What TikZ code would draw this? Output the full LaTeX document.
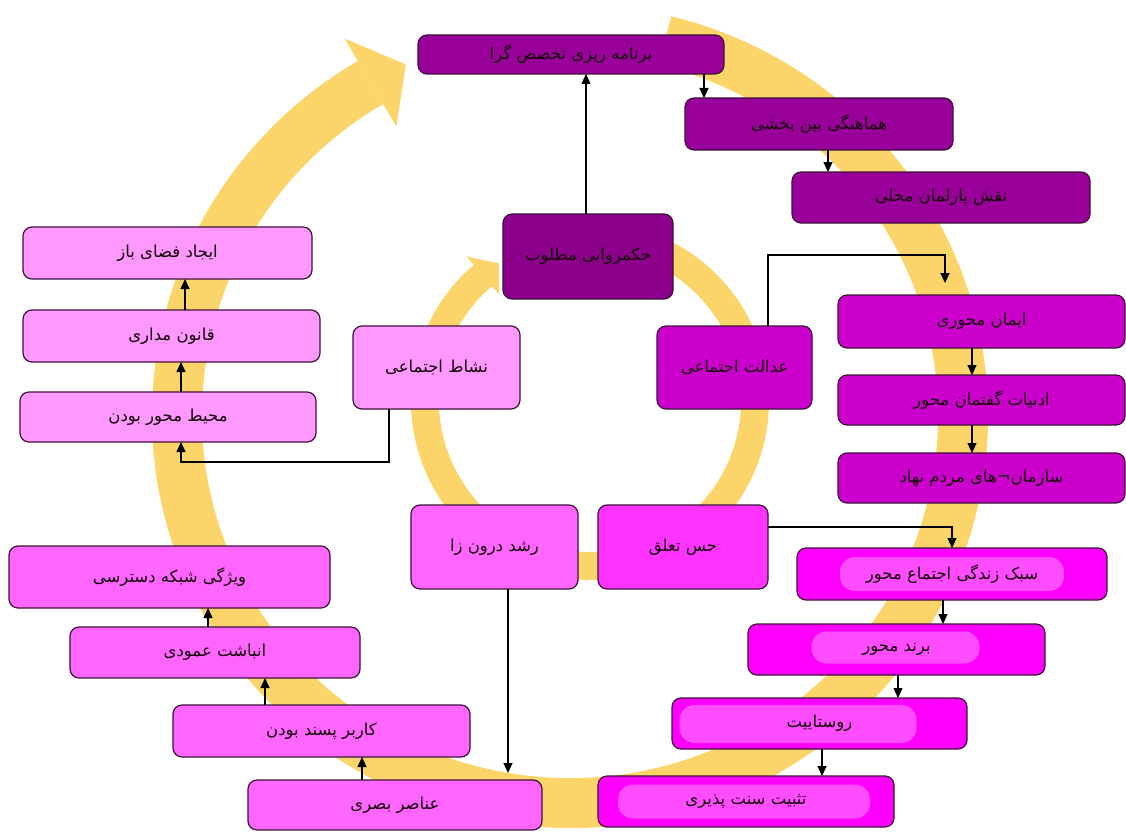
\documentclass[tikz,border=0pt]{standalone}
\usepackage{fontspec}
\newfontfamily\fa[Script=Arabic]{DejaVu Sans}
\TeXXeTstate=1
\usetikzlibrary{arrows.meta,calc}
\definecolor{ringc}{HTML}{FBD56A}
\definecolor{bordc}{HTML}{3C1238}
\definecolor{cdarkp}{HTML}{990099}
\definecolor{cdarkq}{HTML}{8C008C}
\definecolor{cmedp}{HTML}{CC00CC}
\definecolor{cmag}{HTML}{FF00FF}
\definecolor{cmagb}{HTML}{FF33FF}
\definecolor{cpink}{HTML}{FF66FF}
\definecolor{clpink}{HTML}{FF99FF}
\definecolor{chl}{HTML}{FF4CFF}
\begin{document}
\begin{tikzpicture}[x=1pt,y=-1pt,
  box/.style={draw=bordc, line width=1.2pt, rounded corners=9pt, inner sep=0pt, outer sep=0pt,
    text=black!90!purple, font=\fa\fontsize{16.5}{19}\selectfont},
  conn/.style={draw=black, line width=1.2pt, -{Triangle[length=10pt,width=9pt]}},
  ringband/.style={draw=ringc, line cap=butt},
  hlb/.style n args={4}{path picture={\fill[chl, rounded corners=15pt]
     ([shift={(#1pt,#2pt)}]path picture bounding box.center) rectangle ++(#3pt,#4pt);}}
]
\useasboundingbox (0,0) rectangle (1126,832);
\fill[white] (0,0) rectangle (1126,832);

% big ring
\coordinate (C) at (570,416);
\draw[ringband, line width=50pt] ($(C)+(-76:393 and 387)$) arc[start angle=-76, end angle=239.5, x radius=393, y radius=387];
\fill[ringc] ($(C)+(239.5:444 and 438)$) -- ($(C)+(245.3:393 and 387)$) -- ($(C)+(239.5:342 and 336)$) -- cycle;

% inner ring
\coordinate (D) at (590,401);
\draw[ringband, line width=28pt] ($(D)+(-80:165)$) arc[start angle=-80, end angle=230, radius=165];
\fill[ringc] ($(D)+(229.5:190)$) -- ($(D)+(236.5:165)$) -- ($(D)+(229.5:140)$) -- cycle;

% boxes
\node[box, fill=cdarkp, minimum width=306pt, minimum height=39pt] (b1) at (571,54.5) {\beginR برنامه ریزی تخصص گرا\endR};
\node[box, fill=cdarkp, minimum width=268pt, minimum height=52pt] (b2) at (819,124) {\beginR هماهنگی بین بخشی\endR};
\node[box, fill=cdarkp, minimum width=298pt, minimum height=51pt] (b3) at (941,197.5) {\beginR نقش پارلمان محلی\endR};
\node[box, fill=cdarkq, minimum width=170pt, minimum height=85pt] (b4) at (588,256.5) {\beginR حکمروایی مطلوب\endR};
\node[box, fill=clpink, minimum width=167pt, minimum height=83pt] (b5) at (436.5,367.5) {\beginR نشاط اجتماعی\endR};
\node[box, fill=cmedp, minimum width=155pt, minimum height=83pt] (b6) at (734.5,367.5) {\beginR عدالت اجتماعی\endR};
\node[box, fill=cmedp, minimum width=287pt, minimum height=53pt] (b7) at (981.5,321.5) {\beginR ایمان محوری\endR};
\node[box, fill=cmedp, minimum width=287pt, minimum height=50pt] (b8) at (981.5,400) {\beginR ادبیات گفتمان محور\endR};
\node[box, fill=cmedp, minimum width=287pt, minimum height=50pt] (b9) at (981.5,478) {\beginR سازمان¬های مردم نهاد\endR};
\node[box, fill=cmagb, minimum width=170pt, minimum height=84pt] (b10) at (683,547) {\beginR حس تعلق\endR};
\node[box, fill=cpink, minimum width=167pt, minimum height=84pt] (b11) at (494.5,547) {\beginR رشد درون زا\endR};
\node[box, fill=cmag, hlb={-112}{-17}{224}{34}, minimum width=310pt, minimum height=52pt] (b12) at (952,574) {\beginR سبک زندگی اجتماع محور\endR};
\node[box, fill=cmag, hlb={-85}{-14}{168}{32}, minimum width=297pt, minimum height=51pt] (b13) at (896.5,649.5) {\beginR برند محور\endR};
\node[box, fill=cmag, hlb={-140}{-19.5}{237}{38}, minimum width=295pt, minimum height=51pt] (b14) at (819.5,723.5) {\beginR روستاییت\endR};
\node[box, fill=cmag, hlb={-128}{-17}{252}{34}, minimum width=296pt, minimum height=51pt] (b15) at (746,801.5) {\beginR تثبیت سنت پذیری\endR};
\node[box, fill=clpink, minimum width=289pt, minimum height=52pt] (b16) at (167.5,253) {\beginR ایجاد فضای باز\endR};
\node[box, fill=clpink, minimum width=297pt, minimum height=52pt] (b17) at (171.5,336) {\beginR قانون مداری\endR};
\node[box, fill=clpink, minimum width=296pt, minimum height=50pt] (b18) at (168,417) {\beginR محیط محور بودن\endR};
\node[box, fill=cpink, minimum width=321pt, minimum height=62pt] (b19) at (169.5,577) {\beginR ویژگی شبکه دسترسی\endR};
\node[box, fill=cpink, minimum width=290pt, minimum height=51pt] (b20) at (215,652.5) {\beginR انباشت عمودی\endR};
\node[box, fill=cpink, minimum width=297pt, minimum height=52pt] (b21) at (321.5,731) {\beginR کاربر پسند بودن\endR};
\node[box, fill=cpink, minimum width=294pt, minimum height=50pt] (b22) at (395,805) {\beginR عناصر بصری\endR};

% connectors
\draw[conn] ([xshift=-2pt]b4.north) -- ([xshift=-2pt]b4.north |- b1.south);
\draw[conn] ([xshift=133pt]b1.south) -- ([xshift=133pt]b1.south |- b2.north);
\draw[conn] ([xshift=9pt]b2.south) -- ([xshift=9pt]b2.south |- b3.north);
\draw[conn, shorten >=12pt] ([xshift=33.5pt]b6.north) -- ++(0,-71) -| ([xshift=-36.5pt]b7.north);
\draw[conn] ([xshift=-9.5pt]b7.south) -- ([xshift=-9.5pt]b7.south |- b8.north);
\draw[conn] ([xshift=-9.5pt]b8.south) -- ([xshift=-9.5pt]b8.south |- b9.north);
\draw[conn] ([yshift=20pt]b10.east) -| (b12.north);
\draw[conn] ([xshift=-9pt]b12.south) -- ([xshift=-9pt]b12.south |- b13.north);
\draw[conn] ([xshift=1.5pt]b13.south) -- ([xshift=1.5pt]b13.south |- b14.north);
\draw[conn] ([xshift=2.5pt]b14.south) -- ([xshift=2.5pt]b14.south |- b15.north);
\draw[conn, shorten >=7pt] ([xshift=13.5pt]b11.south) -- ([xshift=13.5pt]b11.south |- b22.north);
\draw[conn] ([xshift=-47.5pt]b5.south) -- ++(0,53) -| ([xshift=13pt]b18.south);
\draw[conn] ([xshift=13pt]b18.north) -- ([xshift=13pt]b18.north |- b17.south);
\draw[conn] ([xshift=13.5pt]b17.north) -- ([xshift=13.5pt]b17.north |- b16.south);
\draw[conn] ([xshift=-7pt]b20.north) -- ([xshift=-7pt]b20.north |- b19.south);
\draw[conn] ([xshift=-56.5pt]b21.north) -- ([xshift=-56.5pt]b21.north |- b20.south);
\draw[conn] ([xshift=-33pt]b22.north) -- ([xshift=-33pt]b22.north |- b21.south);
\end{tikzpicture}
\end{document}
